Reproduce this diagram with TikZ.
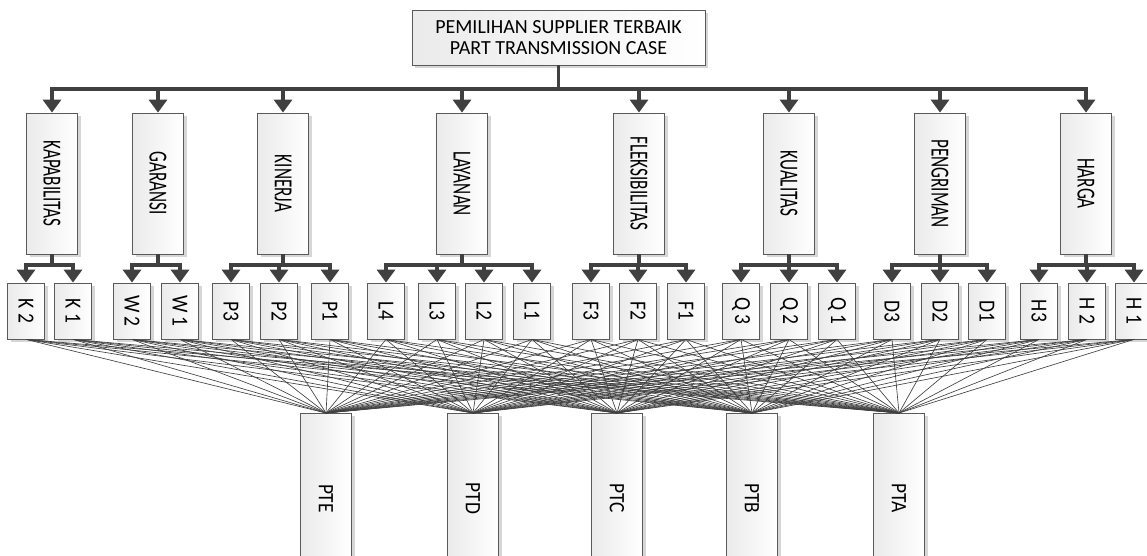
\documentclass[tikz,border=0pt]{standalone}
\usepackage{fontspec}
\usepackage{graphicx}
\setmainfont{Carlito}
\usetikzlibrary{arrows.meta,shadows}
\definecolor{linec}{HTML}{404040}
\definecolor{boxline}{HTML}{5A5A5A}
\newcommand{\critlabel}[1]{\rotatebox{-90}{\scalebox{0.66}[1]{\fontsize{26}{26}\selectfont #1}}}
\newcommand{\sublabel}[1]{\rotatebox{-90}{\scalebox{0.85}[1]{\fontsize{23}{23}\selectfont #1}}}
\newcommand{\altlabel}[1]{\rotatebox{-90}{\scalebox{0.88}[1]{\fontsize{22}{22}\selectfont #1}}}
\begin{document}
\begin{tikzpicture}[x=1pt,y=-1pt,
  box/.style={draw=boxline, line width=0.8pt, left color=black!8, right color=white,
    drop shadow={shadow xshift=3pt, shadow yshift=-3pt, fill=black!16, opacity=1}, inner sep=0pt},
  goalbox/.style={box, minimum width=293pt, minimum height=55pt, align=center,
    font=\fontsize{20}{21}\selectfont},
  crit/.style={box, minimum width=51pt, minimum height=141pt},
  sub/.style={box, minimum width=37pt, minimum height=56pt},
  alt/.style={box, minimum width=51pt, minimum height=170pt, anchor=north},
  arr/.style={draw=linec, line width=3.3pt, -{Triangle[length=13pt 0,width=18pt 0]}},
  link/.style={draw=black!75, line width=0.65pt},
]
\useasboundingbox (0,0) rectangle (1147,555);
\clip (0,0) rectangle (1147,555);

% goal
\node[goalbox] (goal) at (558.5,37.5) {PEMILIHAN SUPPLIER TERBAIK\\PART TRANSMISSION CASE};

% criteria
\node[crit] (kap) at (52,183.5)  {\critlabel{KAPABILITAS}};
\node[crit] (gar) at (158,183.5) {\critlabel{GARANSI}};
\node[crit] (kin) at (283,183.5) {\critlabel{KINERJA}};
\node[crit] (lay) at (462,183.5) {\critlabel{LAYANAN}};
\node[crit] (fle) at (639,183.5) {\critlabel{FLEKSIBILITAS}};
\node[crit] (kua) at (789,183.5) {\critlabel{KUALITAS}};
\node[crit] (pen) at (940,183.5) {\critlabel{PENGRIMAN}};
\node[crit] (har) at (1086,183.5) {\critlabel{HARGA}};

% sub-criteria
\node[sub] (k2) at (26,311)  {\sublabel{K 2}};
\node[sub] (k1) at (73,311)  {\sublabel{K 1}};
\node[sub] (w2) at (132,311) {\sublabel{W 2}};
\node[sub] (w1) at (180,311) {\sublabel{W 1}};
\node[sub] (p3) at (231,311) {\sublabel{P3}};
\node[sub] (p2) at (279,311) {\sublabel{P2}};
\node[sub] (p1) at (330,311) {\sublabel{P1}};
\node[sub] (l4) at (386,311) {\sublabel{L4}};
\node[sub] (l3) at (437,311) {\sublabel{L3}};
\node[sub] (l2) at (484,311) {\sublabel{L2}};
\node[sub] (l1) at (532,311) {\sublabel{L1}};
\node[sub] (f3) at (591,311) {\sublabel{F3}};
\node[sub] (f2) at (638,311) {\sublabel{F2}};
\node[sub] (f1) at (686,311) {\sublabel{F1}};
\node[sub] (q3) at (741,311) {\sublabel{Q 3}};
\node[sub] (q2) at (789,311) {\sublabel{Q 2}};
\node[sub] (q1) at (837,311) {\sublabel{Q 1}};
\node[sub] (d3) at (892,311) {\sublabel{D3}};
\node[sub] (d2) at (940,311) {\sublabel{D2}};
\node[sub] (d1) at (987,311) {\sublabel{D1}};
\node[sub] (h3) at (1039,311) {\sublabel{H3}};
\node[sub] (h2) at (1087,311) {\sublabel{H 2}};
\node[sub] (h1) at (1134,311) {\sublabel{H 1}};

% alternatives
\node[alt] (pte) at (326,413) {\altlabel{PTE}};
\node[alt] (ptd) at (473,413) {\altlabel{PTD}};
\node[alt] (ptc) at (617,413) {\altlabel{PTC}};
\node[alt] (ptb) at (752,413) {\altlabel{PTB}};
\node[alt] (pta) at (899,413) {\altlabel{PTA}};

% buses
\coordinate (bus) at (0,89);
\coordinate (sbus) at (0,265);

% goal -> criteria
\foreach \c in {kap,gar,kin,lay,fle,kua,pen,har}
  \draw[arr] (goal.south) -- (goal.south |- bus) -| (\c.north);

% criteria -> sub-criteria
\foreach \c/\s in {kap/k2,kap/k1,gar/w2,gar/w1,kin/p3,kin/p2,kin/p1,
                   lay/l4,lay/l3,lay/l2,lay/l1,fle/f3,fle/f2,fle/f1,
                   kua/q3,kua/q2,kua/q1,pen/d3,pen/d2,pen/d1,har/h3,har/h2,har/h1}
  \draw[arr] (\c.south) -- (\c.south |- sbus) -| (\s.north);

% sub-criteria -> alternatives
\foreach \s in {k2,k1,w2,w1,p3,p2,p1,l4,l3,l2,l1,f3,f2,f1,q3,q2,q1,d3,d2,d1,h3,h2,h1}
  \foreach \a in {pte,ptd,ptc,ptb,pta}
    \draw[link] (\s.south) -- (\a.north);
\end{tikzpicture}
\end{document}
